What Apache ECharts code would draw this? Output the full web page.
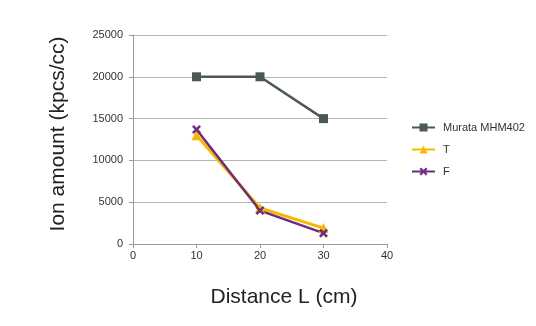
<!DOCTYPE html>
<html><head><meta charset="utf-8">
<script src="https://cdn.jsdelivr.net/npm/echarts@6/dist/echarts.min.js"></script>
<style>html,body{margin:0;padding:0;background:#fff}#c{width:536px;height:326px}</style>
</head><body><div id="c"></div>
<script>
const distances = [10, 20, 30];
const murata = [20000, 20000, 15000];
const seriesT = [13000, 4300, 1900];
const seriesF = [13700, 4000, 1300];
const seriesNames = ['Murata MHM402', 'T', 'F'];
const xTitle = 'Distance L (cm)';
const yTitle = 'Ion amount (kpcs/cc)';

const xPath = 'path://M2,0L5,3L8,0L10,2L7,5L10,8L8,10L5,7L2,10L0,8L3,5L0,2Z';
const font = 'Liberation Sans, Arial, sans-serif';
function pairs(v){ return distances.map((d,i)=>[d, v[i]]); }

const chart = echarts.init(document.getElementById('c'), null, {renderer:'canvas'});
chart.setOption({
  animation:false,
  textStyle:{fontFamily:font},
  grid:{left:133, right:149, top:35, bottom:82},
  graphic:[
    {type:'text', x:284, y:297, style:{text:xTitle, font:'21px ' + font, fill:'#222', textAlign:'center', textVerticalAlign:'middle'}},
    {type:'text', x:58, y:134, rotation:Math.PI/2, style:{text:yTitle, font:'21px ' + font, fill:'#222', textAlign:'center', textVerticalAlign:'middle'}}
  ],
  xAxis:{type:'value', min:0, max:40, interval:10,
    axisLine:{show:true, lineStyle:{color:'#9a9a9a', width:1}},
    axisTick:{show:true, length:4, lineStyle:{color:'#9a9a9a'}},
    axisLabel:{fontSize:11, color:'#333', margin:6},
    splitLine:{show:false}},
  yAxis:{type:'value', min:0, max:25000, interval:5000,
    axisLine:{show:true, lineStyle:{color:'#9a9a9a', width:1}},
    axisTick:{show:true, length:4, lineStyle:{color:'#9a9a9a'}},
    axisLabel:{fontSize:11, color:'#333', margin:10, formatter:v=>String(v)},
    splitLine:{show:true, lineStyle:{color:'#b5b5b5', width:1}}},
  legend:{orient:'vertical', left:406, top:117, itemGap:11, itemWidth:23, itemHeight:10,
    textStyle:{fontSize:11, color:'#333', padding:[0,0,0,3]},
    data:seriesNames},
  series:[
    {name:seriesNames[0], type:'line', data:pairs(murata), symbol:'rect', symbolSize:9,
      lineStyle:{color:'#4b5853', width:2.5}, itemStyle:{color:'#4b5853'}},
    {name:seriesNames[1], type:'line', data:pairs(seriesT), symbol:'triangle', symbolSize:10,
      lineStyle:{color:'#f9b800', width:3}, itemStyle:{color:'#f9b800'}},
    {name:seriesNames[2], type:'line', data:pairs(seriesF), symbol:xPath, symbolSize:9,
      lineStyle:{color:'#6b2d7c', width:2.5}, itemStyle:{color:'#6b2d7c'}}
  ]
});
</script></body></html>
